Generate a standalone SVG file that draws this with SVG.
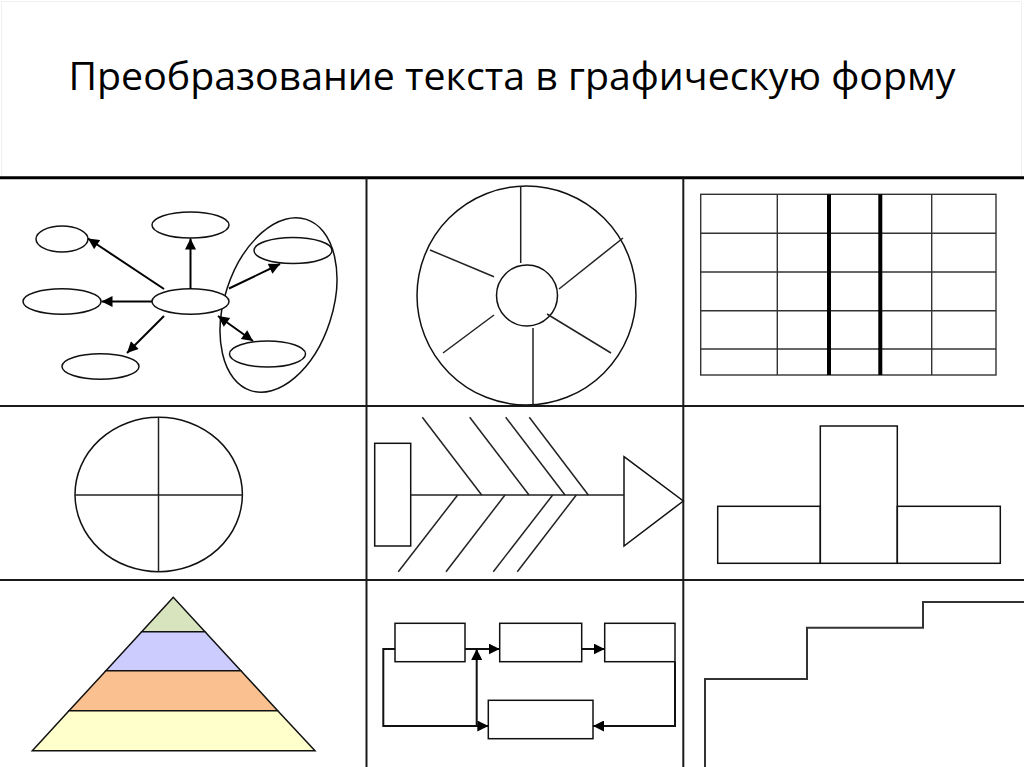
<svg xmlns="http://www.w3.org/2000/svg" width="1024" height="767" viewBox="0 0 1024 767">
<style>
.s{fill:none;stroke:#111;stroke-width:1.5}
.w{fill:#fff;stroke:#111;stroke-width:1.5}
.g{fill:none;stroke:#1a1a1a;stroke-width:2}
.t{stroke:#222;stroke-width:1.5}
.title{font-family:"Open Sans","Liberation Sans",sans-serif;font-size:38px;fill:#000}
</style>
<defs>
<marker id="ah" viewBox="0 0 10 10" refX="10" refY="5" markerWidth="6.5" markerHeight="5.5" orient="auto-start-reverse" markerUnits="strokeWidth">
<path d="M0,0 L10,5 L0,10 z" fill="#000"/>
</marker>
<marker id="fa" viewBox="0 0 10 10" refX="10" refY="5" markerWidth="5.5" markerHeight="5.5" orient="auto" markerUnits="strokeWidth">
<path d="M0,0 L10,5 L0,10 z" fill="#000"/>
</marker>
</defs>
<rect width="1024" height="767" fill="#fff"/>
<rect x="1.5" y="1.5" width="1020" height="176" fill="none" stroke="#f0f0f0" stroke-width="1"/>
<text class="title" x="68.5" y="89.5" textLength="887" lengthAdjust="spacingAndGlyphs">Преобразование текста в графическую форму</text>

<g id="grid">
<line x1="0" y1="177.8" x2="1024" y2="177.8" stroke="#000" stroke-width="3"/>
<line class="g" x1="0" y1="406" x2="1024" y2="406"/>
<line class="g" x1="0" y1="580" x2="1024" y2="580"/>
<line class="g" x1="366.5" y1="178" x2="366.5" y2="767"/>
<line class="g" x1="683.3" y1="178" x2="683.3" y2="767"/>
</g>

<g id="mindmap">
<ellipse class="s" cx="278.5" cy="305" rx="54" ry="90" transform="rotate(18 278.5 305)"/>
<ellipse id="n-tl" class="w" cx="62" cy="239" rx="26" ry="13"/>
<ellipse id="n-top" class="w" cx="190.5" cy="225" rx="38.5" ry="13"/>
<ellipse id="n-left" class="w" cx="62" cy="301.5" rx="39" ry="12.7"/>
<ellipse id="n-center" class="w" cx="190.5" cy="301.5" rx="38.5" ry="12.7"/>
<ellipse id="n-bottom" class="w" cx="100.5" cy="366.5" rx="38.5" ry="12.7"/>
<ellipse id="n-rt" class="w" cx="293" cy="250.5" rx="39" ry="13"/>
<ellipse id="n-rb" class="w" cx="267.5" cy="354" rx="38" ry="13"/>
</g>
<g id="mindmap-connectors" fill="none" stroke="#000" stroke-width="2">
<line x1="164" y1="289" x2="88" y2="238.5" marker-end="url(#ah)"/>
<line x1="190.5" y1="288.8" x2="190.5" y2="238.5" marker-end="url(#ah)"/>
<line x1="152" y1="301.5" x2="101.5" y2="301.5" marker-end="url(#ah)"/>
<line x1="164" y1="316" x2="127" y2="353" marker-end="url(#ah)"/>
<line x1="229" y1="288.5" x2="280" y2="264" marker-end="url(#ah)"/>
<line x1="218" y1="316" x2="253" y2="341" marker-start="url(#ah)" marker-end="url(#ah)"/>
</g>

<g id="wheel">
<circle class="s" cx="526.5" cy="295.5" r="109.5"/>
<circle class="s" cx="527" cy="295.5" r="30.5"/>
<line class="t" x1="520.7" y1="186.5" x2="520.7" y2="263"/>
<line class="t" x1="430" y1="250" x2="494" y2="276.7"/>
<line class="t" x1="623" y1="238" x2="559" y2="289"/>
<line class="t" x1="443" y1="353" x2="494" y2="315"/>
<line class="t" x1="547" y1="314" x2="611" y2="353"/>
<line class="t" x1="533" y1="328" x2="533" y2="405"/>
</g>

<g id="table">
<rect x="700.7" y="194.3" width="295.3" height="180.7" fill="none" stroke="#333" stroke-width="1.4"/>
<g stroke="#333" stroke-width="1.4">
<line x1="700.7" y1="233.3" x2="996" y2="233.3"/>
<line x1="700.7" y1="272" x2="996" y2="272"/>
<line x1="700.7" y1="310.7" x2="996" y2="310.7"/>
<line x1="700.7" y1="349" x2="996" y2="349"/>
<line x1="777.3" y1="194.3" x2="777.3" y2="375"/>
<line x1="931.7" y1="194.3" x2="931.7" y2="375"/>
</g>
<line x1="829" y1="194.3" x2="829" y2="375" stroke="#000" stroke-width="4"/>
<line x1="880.3" y1="194.3" x2="880.3" y2="375" stroke="#000" stroke-width="4"/>
</g>

<g id="circle-cross">
<ellipse class="s" cx="158.7" cy="494.5" rx="83.7" ry="77.2"/>
<line class="t" x1="158.5" y1="417.3" x2="158.5" y2="571.7"/>
<line class="t" x1="75" y1="495" x2="242.4" y2="495"/>
</g>

<g id="fishbone">
<rect class="s" x="374.7" y="443.3" width="36" height="102.7"/>
<polygon class="s" points="624,456.7 683.3,501 624,546"/>
<g class="t">
<line x1="410.7" y1="495" x2="624" y2="495"/>
<line x1="422.3" y1="417.3" x2="481.7" y2="495"/>
<line x1="469.7" y1="417.3" x2="529" y2="495"/>
<line x1="505.7" y1="417.3" x2="565" y2="495"/>
<line x1="529.3" y1="417.3" x2="588.3" y2="495"/>
<line x1="457.7" y1="495" x2="398.3" y2="571.7"/>
<line x1="505" y1="495" x2="446" y2="571.7"/>
<line x1="552.7" y1="495" x2="493.3" y2="571.7"/>
<line x1="576.3" y1="495" x2="517.3" y2="571.7"/>
</g>
</g>

<g id="t-shape">
<rect class="s" x="717.7" y="506.3" width="102.6" height="57"/>
<rect class="s" x="820.3" y="426" width="77" height="137.3"/>
<rect class="s" x="897.3" y="506.3" width="103" height="57"/>
</g>

<g id="pyramid" stroke="#111" stroke-width="1.5">
<polygon points="173.3,597.3 141.7,631.7 205,631.7" fill="#d7e4bd"/>
<polygon points="141.7,631.7 205,631.7 240.9,670.7 105.9,670.7" fill="#ccccff"/>
<polygon points="105.9,670.7 240.9,670.7 277.7,710.7 69,710.7" fill="#fac090"/>
<polygon points="69,710.7 277.7,710.7 315,750.7 32.3,750.7" fill="#ffffcc"/>
</g>

<g id="flow-b1"><rect class="s" x="395" y="623.3" width="70" height="38.4"/></g>
<g id="flow-b2"><rect class="s" x="499.7" y="623.3" width="82" height="38.4"/></g>
<g id="flow-b3"><rect class="s" x="604.7" y="623.3" width="70.3" height="38.4"/></g>
<g id="flow-b4"><rect class="s" x="488.3" y="700.3" width="104.7" height="38.4"/></g>
<g id="flow-connectors" fill="none" stroke="#111" stroke-width="2">
<line x1="465" y1="649" x2="499.7" y2="649" marker-end="url(#fa)"/>
<line x1="581.7" y1="649" x2="604.7" y2="649" marker-end="url(#fa)"/>
<polyline points="395,649 383.3,649 383.3,726 488.3,726" marker-end="url(#fa)"/>
<line x1="476.7" y1="726" x2="476.7" y2="649" marker-end="url(#fa)"/>
<polyline points="675,661.7 675,726 593,726" marker-end="url(#fa)"/>
</g>

<g id="staircase">
<polyline fill="none" stroke="#333" stroke-width="2" points="705,767 705,679 807,679 807,627.7 923,627.7 923,602 1024,602"/>
</g>
</svg>
